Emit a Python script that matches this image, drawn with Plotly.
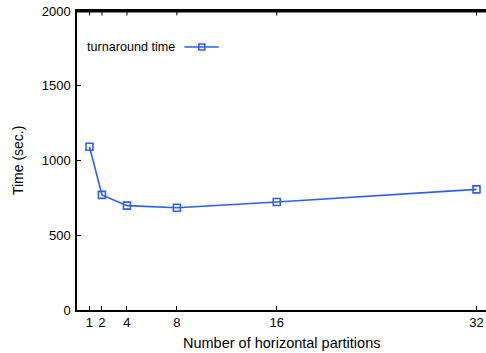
import plotly.graph_objects as go

# Number of horizontal partitions vs. turnaround time
partitions = [1, 2, 4, 8, 16, 32]
turnaround_sec = [1092, 770, 698, 684, 722, 807]
x_ticks = [1, 2, 4, 8, 16, 32]
y_ticks = [0, 500, 1000, 1500, 2000]

BLUE = "#2f5ef5"
FONT = "Liberation Sans, Arial, sans-serif"
W, H = 486, 353
L, R, T, B = 76.5, 0, 11, 43

fig = go.Figure()
fig.add_trace(go.Scatter(
    x=partitions, y=turnaround_sec, mode="lines+markers",
    name="turnaround time",
    line=dict(color=BLUE, width=1.6),
    marker=dict(symbol="square-open", size=7, color=BLUE, line=dict(width=1.6, color=BLUE)),
    showlegend=False,
))

pw, ph = W - L - R, H - T - B


def px(xp):
    return (xp - L) / pw


def py(yp):
    return (H - B - yp) / ph


# gnuplot-style key: label on the left, line sample with marker on the right
key_y = py(47)
fig.add_annotation(xref="paper", yref="paper", x=px(177), y=key_y, text="turnaround time",
                   showarrow=False, xanchor="right", yanchor="middle",
                   font=dict(family=FONT, size=12.6, color="#000"))
fig.add_shape(type="line", xref="paper", yref="paper", x0=px(184), x1=px(218.5), y0=key_y, y1=key_y,
              line=dict(color=BLUE, width=1.6))
fig.add_shape(type="rect", xref="paper", yref="paper", x0=px(198.5), x1=px(204.5),
              y0=py(50), y1=py(44),
              line=dict(color=BLUE, width=1.6), fillcolor="rgba(0,0,0,0)")

# top border of the frame, with mirrored x ticks hanging from it
fig.add_shape(type="line", xref="paper", yref="paper", x0=0, x1=1, y0=0.998, y1=0.998,
              line=dict(color="#000", width=1.6))
for xv in x_ticks:
    fig.add_shape(type="line", xref="x", yref="paper", x0=xv, x1=xv, y0=0.998, y1=py(15.5),
                  line=dict(color="#000", width=1))

# axis titles
fig.add_annotation(xref="paper", yref="paper", x=px(281), y=py(343),
                   text="Number of horizontal partitions", showarrow=False,
                   xanchor="center", yanchor="middle",
                   font=dict(family=FONT, size=14.5, color="#000"))
fig.add_annotation(xref="paper", yref="paper", x=px(17.5), y=py(161),
                   text="Time (sec.)", showarrow=False, textangle=-90,
                   xanchor="center", yanchor="middle",
                   font=dict(family=FONT, size=14, color="#000"))

fig.update_layout(
    width=W, height=H,
    margin=dict(l=L, r=R, t=T, b=B),
    paper_bgcolor="white", plot_bgcolor="white",
    font=dict(family=FONT, size=13, color="#000"),
    xaxis=dict(
        range=[0, 32.76], tickvals=x_ticks, ticktext=[str(v) for v in x_ticks],
        ticks="inside", ticklen=4, tickwidth=1, tickcolor="#000",
        showline=True, linecolor="#000", linewidth=1.5, mirror=True,
        showgrid=False, zeroline=False,
        tickfont=dict(family=FONT, size=13),
    ),
    yaxis=dict(
        range=[0, 2000], tickvals=y_ticks,
        ticks="inside", ticklen=4, tickwidth=1, tickcolor="#000",
        showline=True, linecolor="#000", linewidth=1.5, mirror=False,
        showgrid=False, zeroline=False, ticklabelstandoff=2,
        tickfont=dict(family=FONT, size=13),
    ),
)

fig.write_html("out.html")
